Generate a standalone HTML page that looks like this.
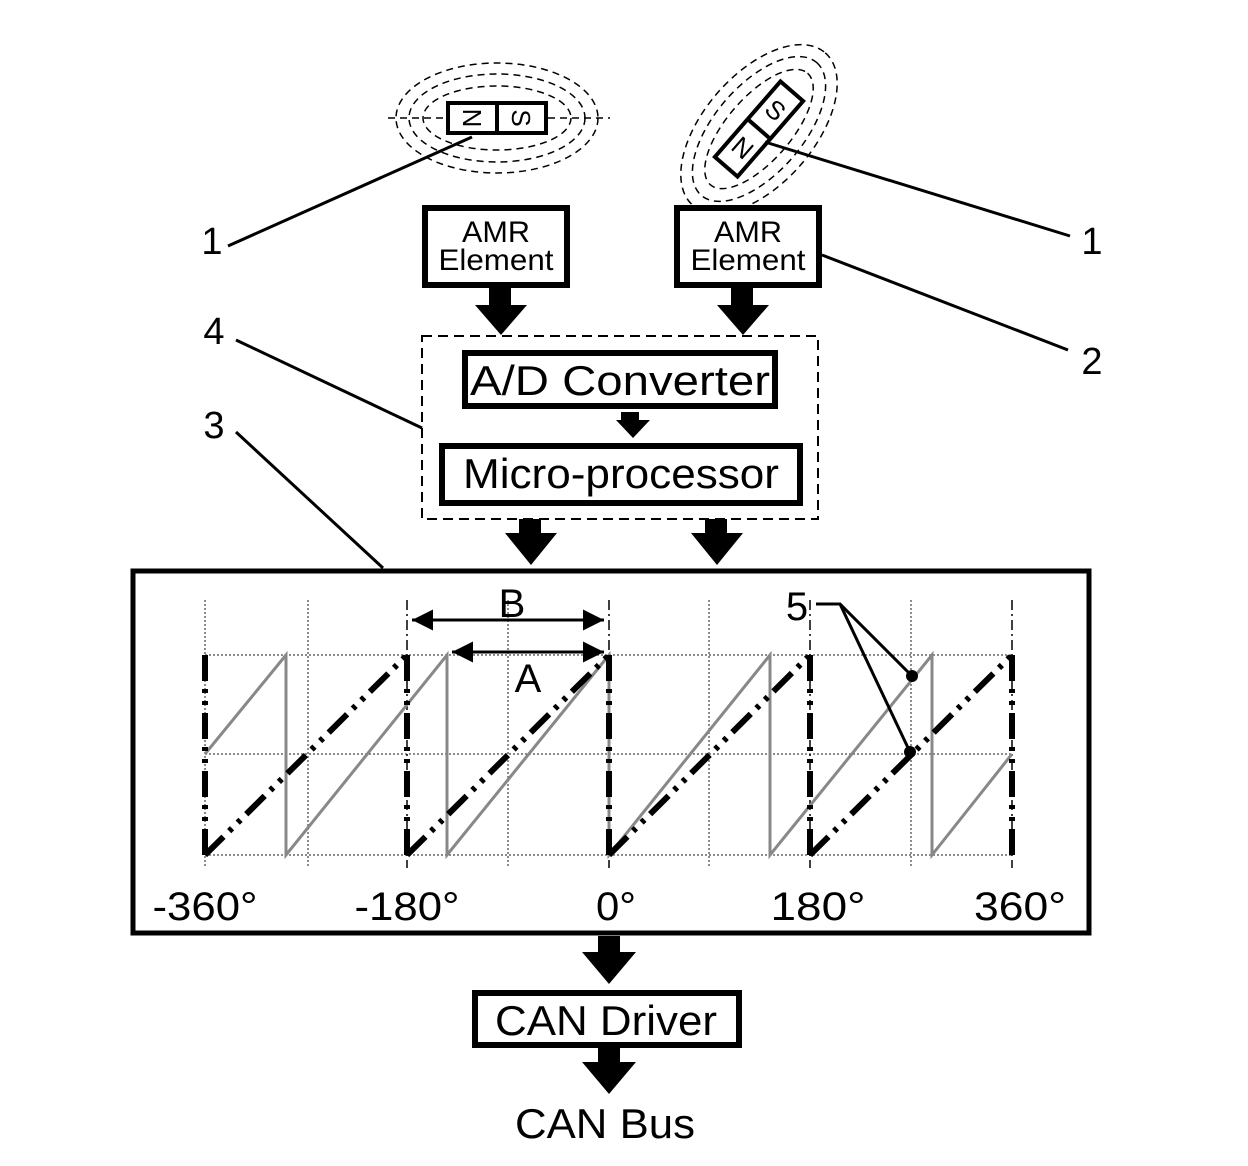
<!DOCTYPE html>
<html><head><style>body{margin:0;background:#fff}svg{display:block}text{font-family:"Liberation Sans",sans-serif;fill:#000}</style></head><body>
<svg width="1248" height="1166" viewBox="0 0 1248 1166" xmlns="http://www.w3.org/2000/svg">
<defs>
<marker id="ah" viewBox="0 0 10 10" refX="10" refY="5" markerWidth="7" markerHeight="7" orient="auto-start-reverse"><path d="M0,0 L10,5 L0,10 z" fill="#000"/></marker>
</defs>
<!-- magnet 1 field -->
<g fill="none" stroke="#000" stroke-width="1.5" stroke-dasharray="7,5">
<ellipse cx="497" cy="118" rx="74" ry="32"/>
<ellipse cx="497" cy="118" rx="88" ry="44"/>
<ellipse cx="497" cy="118" rx="101" ry="55"/>
<line x1="388" y1="118" x2="446" y2="118"/><line x1="548" y1="118" x2="610" y2="118"/>
</g>
<rect x="448" y="103" width="98" height="30" fill="#fff" stroke="#000" stroke-width="4"/>
<line x1="497" y1="103" x2="497" y2="133" stroke="#000" stroke-width="4"/>
<text x="0" y="0" font-size="26" text-anchor="middle" transform="translate(472,118) rotate(90) translate(0,9)">N</text>
<text x="521" y="127" font-size="26" text-anchor="middle" transform="rotate(90 521 118)">S</text>
<!-- magnet 2 -->
<g transform="translate(759,129) rotate(-49)">
<g fill="none" stroke="#000" stroke-width="1.5" stroke-dasharray="7,5">
<ellipse cx="0" cy="0" rx="74" ry="32"/>
<ellipse cx="0" cy="0" rx="88" ry="44"/>
<ellipse cx="0" cy="0" rx="101" ry="55"/>
</g>
<rect x="-50" y="-15" width="100" height="30" fill="#fff" stroke="#000" stroke-width="4"/>
<line x1="0" y1="-15" x2="0" y2="15" stroke="#000" stroke-width="4"/>
<text x="-25" y="9" font-size="26" text-anchor="middle" transform="rotate(90 -25 0)">N</text>
<text x="25" y="9" font-size="26" text-anchor="middle" transform="rotate(90 25 0)">S</text>
</g>
<!-- leaders -->
<g stroke="#000" stroke-width="3" fill="none">
<line x1="228" y1="246" x2="472" y2="137"/>
<line x1="765" y1="142" x2="1070" y2="236"/>
<line x1="822" y1="255" x2="1068" y2="350"/>
<line x1="236" y1="340" x2="422" y2="428"/>
<line x1="236" y1="432" x2="383" y2="568"/>
</g>
<text x="212" y="254" font-size="38" text-anchor="middle">1</text>
<text x="1092" y="254" font-size="38" text-anchor="middle">1</text>
<text x="1092" y="374" font-size="38" text-anchor="middle">2</text>
<text x="214" y="344" font-size="38" text-anchor="middle">4</text>
<text x="214" y="438" font-size="38" text-anchor="middle">3</text>
<!-- AMR boxes -->
<rect x="425" y="208" width="142" height="77" fill="#fff" stroke="#000" stroke-width="6"/>
<text x="496" y="242" font-size="30" text-anchor="middle" textLength="68" lengthAdjust="spacingAndGlyphs">AMR</text>
<text x="496" y="270" font-size="30" text-anchor="middle" textLength="115" lengthAdjust="spacingAndGlyphs">Element</text>
<rect x="677" y="208" width="142" height="77" fill="#fff" stroke="#000" stroke-width="6"/>
<text x="748" y="242" font-size="30" text-anchor="middle" textLength="68" lengthAdjust="spacingAndGlyphs">AMR</text>
<text x="748" y="270" font-size="30" text-anchor="middle" textLength="115" lengthAdjust="spacingAndGlyphs">Element</text>
<!-- big arrows -->
<g fill="#000">
<path d="M489,288 h22 v17 h16 l-26,30 l-26,-30 h14z"/>
<path d="M731,288 h22 v17 h16 l-26,30 l-26,-30 h14z"/>
<path d="M621,412 h18 v8 h11 l-17,18 l-17,-18 h5z"/>
<path d="M519,519 h22 v14 h16 l-26,32 l-26,-32 h14z"/>
<path d="M705,519 h22 v14 h16 l-26,32 l-26,-32 h14z"/>
<path d="M598,936 h22 v16 h16 l-27,32 l-27,-32 h16z"/>
<path d="M598,1047 h22 v15 h16 l-27,32 l-27,-32 h16z"/>
</g>
<rect x="422" y="336" width="396" height="183" fill="none" stroke="#000" stroke-width="2" stroke-dasharray="10,6"/>
<rect x="465" y="353" width="310" height="53" fill="#fff" stroke="#000" stroke-width="6"/>
<text x="620" y="395" font-size="42" text-anchor="middle" textLength="300" lengthAdjust="spacingAndGlyphs">A/D Converter</text>
<rect x="442" y="446" width="358" height="57" fill="#fff" stroke="#000" stroke-width="6"/>
<text x="621" y="488" font-size="42" text-anchor="middle" textLength="316" lengthAdjust="spacingAndGlyphs">Micro-processor</text>
<!-- graph -->
<rect x="133" y="571" width="956" height="362" fill="#fff" stroke="#000" stroke-width="5"/>
<g stroke="#666" stroke-width="1.5" stroke-dasharray="2,2" fill="none">
<path d="M205,600V868M308,600V868M508,600V868M709,600V868M911,600V868"/>
<path d="M205,655H1012M205,754H1012M205,855H1012"/>
</g>
<g stroke="#000" stroke-width="1.5" stroke-dasharray="10,4,2,4" fill="none">
<path d="M407,600V868M609,600V868M810,600V868M1012,600V868"/>
</g>
<polyline points="205,754 286,655 286,855 447,655 447,855 609,655 609,855 770,655 770,855 932,655 932,855 1012,754" fill="none" stroke="#888" stroke-width="3"/>
<g stroke="#000" stroke-width="6" fill="none" stroke-dasharray="26,8,4,8,4,8">
<path d="M205,855L407,655M407,855L609,655M609,855L810,655M810,855L1012,655"/>
<path d="M205,655V855M407,655V855M609,655V855M810,655V855M1012,655V855"/>
</g>
<line x1="412" y1="620" x2="604" y2="620" stroke="#000" stroke-width="3" marker-start="url(#ah)" marker-end="url(#ah)"/>
<line x1="452" y1="652" x2="604" y2="652" stroke="#000" stroke-width="3" marker-start="url(#ah)" marker-end="url(#ah)"/>
<text x="512" y="617" font-size="40" text-anchor="middle">B</text>
<text x="528" y="692" font-size="40" text-anchor="middle">A</text>
<text x="797" y="620" font-size="40" text-anchor="middle">5</text>
<polyline points="816,604 840,604 912,676" fill="none" stroke="#000" stroke-width="3"/>
<line x1="840" y1="604" x2="910" y2="752" stroke="#000" stroke-width="3"/>
<circle cx="912" cy="676" r="6"/><circle cx="910" cy="752" r="6"/>
<g font-size="40" text-anchor="middle">
<text x="205" y="920" textLength="105" lengthAdjust="spacingAndGlyphs">-360°</text>
<text x="407" y="920" textLength="105" lengthAdjust="spacingAndGlyphs">-180°</text>
<text x="616" y="920" textLength="40" lengthAdjust="spacingAndGlyphs">0°</text>
<text x="818" y="920" textLength="95" lengthAdjust="spacingAndGlyphs">180°</text>
<text x="1020" y="920" textLength="92" lengthAdjust="spacingAndGlyphs">360°</text>
</g>
<rect x="475" y="993" width="264" height="52" fill="#fff" stroke="#000" stroke-width="6"/>
<text x="606" y="1035" font-size="42" text-anchor="middle" textLength="222" lengthAdjust="spacingAndGlyphs">CAN Driver</text>
<text x="605" y="1138" font-size="42" text-anchor="middle" textLength="180" lengthAdjust="spacingAndGlyphs">CAN Bus</text>
</svg>
</body></html>
